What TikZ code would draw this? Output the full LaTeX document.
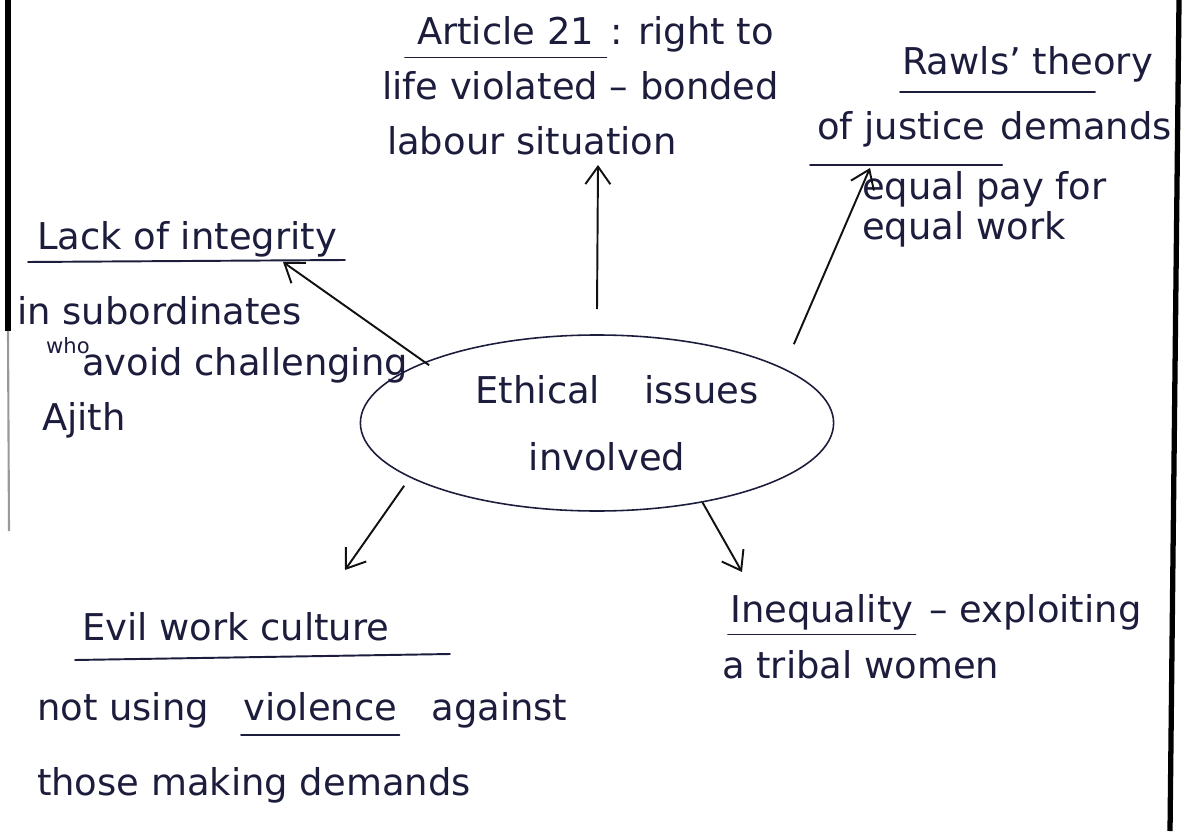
\documentclass[tikz,border=0pt]{standalone}
\usepackage{fontspec}
\setmainfont{DejaVu Sans}
\usetikzlibrary{arrows.meta,positioning,shapes.geometric}
\definecolor{ink}{HTML}{1C1C3C}
\definecolor{edge}{HTML}{111111}

\tikzset{
  hand/.style={ink,anchor=base west,inner sep=1pt,font=\fontsize{21}{25}\selectfont},
  uline/.style={ink,line width=1.1pt,line cap=round},
  arr/.style={edge,line width=1.1pt,-{Straight Barb[length=3.5mm,width=5mm]}}
}

\begin{document}
\begin{tikzpicture}
  \useasboundingbox (0,0) rectangle (23.74,16.62);

  % Page edges
  \draw[line width=3.4pt,black] (0.16,16.62) -- (0.16,10.0);
  \draw[line width=1.2pt,black!40] (0.16,10.0) -- (0.18,6.0);
  \draw[line width=3pt,black] (23.58,16.62) -- (23.40,0);

  % Central ellipse
  \node[ellipse,draw=edge,line width=0.9pt,minimum width=9.28cm,minimum height=3.52cm,
        align=center,ink,font=\fontsize{21}{38}\selectfont] (ethics) at (11.94,8.16)
        {\hspace*{8mm}Ethical\hspace{1.2em}issues\\\hspace*{4mm}involved};

  % Article 21
  \node[hand] (art) at (8.3,15.72) {Article 21};
  \node[hand,anchor=base west] (artb) at (art.base east) {\ : right to};
  \node[hand] (art2) at (7.6,14.62) {life violated -- bonded};
  \node[hand] (art3) at (7.7,13.52) {labour situation};
  \draw[uline] ([xshift=-2mm,yshift=-2.5mm]art.base west) -- ([xshift=2mm,yshift=-2.5mm]art.base east);
  \coordinate (artTip) at (11.96,13.32);

  % Rawls
  \node[hand] (raw1) at (18.0,15.12) {Rawls' theory};
  \node[hand] (raw2) at (16.3,13.82) {of justice};
  \node[hand,anchor=base west] (raw2b) at (raw2.base east) {\ demands};
  \node[hand] (raw3) at (17.2,12.62) {equal pay for};
  \node[hand] (raw4) at (17.2,11.82) {equal work};
  \draw[uline] (18.0,14.78) -- (21.9,14.78);
  \draw[uline] ([xshift=-1mm,yshift=-5mm]raw2.base west) -- ([xshift=3mm,yshift=-5mm]raw2.base east);
  \coordinate (rawTip) at (17.4,13.26);

  % Lack of integrity
  \node[hand] (int1) at (0.7,11.62) {Lack of integrity};
  \draw[uline] (0.56,11.38) -- (6.9,11.42);
  \node[hand] (int2) at (0.3,10.12) {in subordinates};
  \node[ink,font=\fontsize{12}{14}\selectfont,anchor=base west] (who) at (0.8,9.55) {who};
  \node[hand] (int3) at (1.6,9.12) {avoid challenging};
  \node[hand] (int4) at (0.8,8.02) {Ajith};
  \coordinate (intTip) at (5.66,11.38);

  % Evil work culture
  \node[hand] (evil1) at (1.6,3.82) {Evil work culture};
  \draw[uline] (1.5,3.42) -- (9.0,3.54);
  \node[hand] (evil2) at (0.7,2.22) {not using};
  \node[hand,anchor=base west] (evil2b) at ([xshift=6mm]evil2.base east) {violence};
  \node[hand,anchor=base west] (evil2c) at ([xshift=6mm]evil2b.base east) {against};
  \draw[uline] ([yshift=-3mm]evil2b.base west) -- ([yshift=-3mm]evil2b.base east);
  \node[hand] (evil3) at (0.7,0.72) {those making demands};
  \coordinate (evilTip) at (6.9,5.22);

  % Inequality
  \node[hand] (ineq) at (14.56,4.18) {Inequality};
  \node[hand,anchor=base west] (ineqb) at (ineq.base east) {\ -- exploiting};
  \node[hand] (ineq2) at (14.4,3.06) {a tribal women};
  \draw[uline] ([yshift=-2.5mm]ineq.base west) -- ([yshift=-2.5mm]ineq.base east);
  \coordinate (ineqTip) at (14.84,5.18);

  % Arrows out of the ellipse
  \draw[arr] ([yshift=5mm]ethics.north) -- (artTip);
  \draw[arr] ([shift={(0.58,0.32)}]ethics.north east) -- (rawTip);
  \draw[arr] ([yshift=-1mm]ethics.north west) -- (intTip);
  \draw[arr] ([xshift=-5mm]ethics.south west) -- (evilTip);
  \draw[arr] (ethics.-37) -- (ineqTip);
\end{tikzpicture}
\end{document}
